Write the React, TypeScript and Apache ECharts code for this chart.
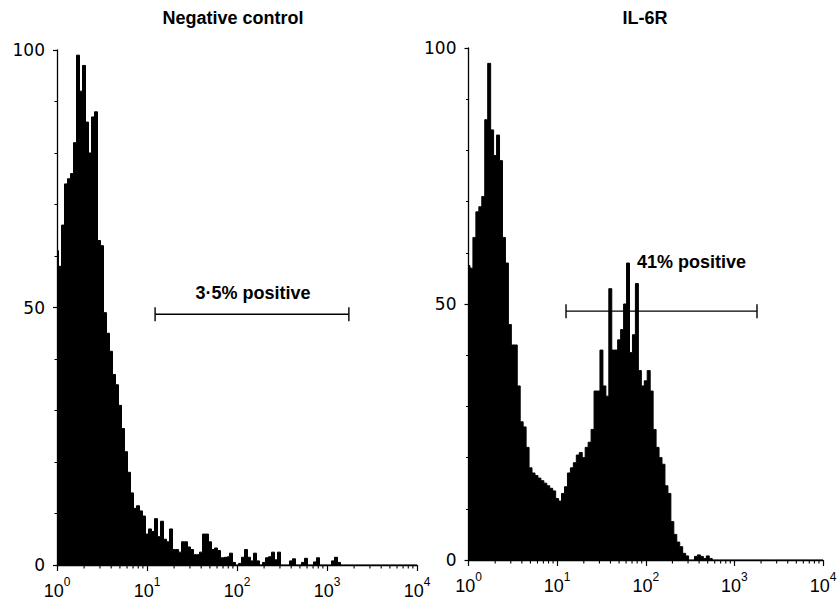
import React, { useEffect, useRef } from 'react';
import * as echarts from 'echarts';

// ---- data ----
const CHANNELS_PER_DECADE = 30; // histogram channels per log decade (channel i sits at 10^(i/30))

const negativeControlCounts = [
  61, 58, 66, 74, 75, 76, 82, 99, 92, 97,
  86, 80, 87, 88, 63, 62, 49, 45, 41.5, 37,
  35, 31, 26.5, 22, 18, 14, 11, 11.5, 10.5, 9.5,
  6, 7, 6.5, 9, 5.5, 8.5, 5, 4.5, 7, 3,
  3, 2.5, 4.5, 4.5, 3.5, 3, 2, 2, 2.5, 6,
  6, 4.5, 3, 3.3, 2.8, 1.4, 1.5, 1.6, 2.3, 0.5,
  0, 0.3, 1.5, 3, 1.5, 0.8, 2.3, 0.8, 0, 0.5,
  1.4, 1.6, 2.5, 1, 2.5, 0, 0, 0, 0.8, 1.2,
  0, 0, 0.5, 1.3, 0, 0, 0.6, 1.4, 0, 0,
  0, 0, 0.8, 1.5, 0.5, 0, 0, 0, 0, 0,
  0, 0, 0, 0, 0, 0, 0, 0, 0, 0,
  0, 0, 0, 0, 0, 0, 0, 0, 0, 0,
  0,
];

const il6rCounts = [
  57.5, 57, 63, 68, 69, 71, 86, 97, 84, 79,
  83, 78, 63, 58, 46, 42, 42, 34, 27, 26,
  22, 18, 17, 16.5, 16, 15.5, 15, 14.5, 14, 13.5,
  12, 11.5, 13, 14.3, 17, 18, 19, 20.5, 21, 20,
  22, 23, 25.5, 33, 33, 41, 34, 32, 53, 41,
  41, 43, 45, 50, 58, 40.5, 44, 54, 37, 34,
  35, 37, 33, 25.5, 22, 20, 18.7, 14.5, 13, 7.5,
  5, 3.5, 2.6, 1.3, 0.8, 0, 0, 0.7, 1, 0.7,
  0.3, 0.8, 0.3, 0, 0, 0, 0, 0, 0, 0,
  0, 0, 0, 0, 0, 0, 0, 0, 0, 0,
  0, 0, 0, 0, 0, 0, 0, 0, 0, 0,
  0, 0, 0, 0, 0, 0, 0, 0, 0, 0,
  0,
];

const panelTitles = ['Negative control', 'IL-6R'];
const xTickValues = [1, 10, 100, 1000, 10000];
const xTickExponents = ['0', '1', '2', '3', '4'];
const xMinorTickValues = [
  2, 3, 4, 5, 6, 7, 8, 9,
  20, 30, 40, 50, 60, 70, 80, 90,
  200, 300, 400, 500, 600, 700, 800, 900,
  2000, 3000, 4000, 5000, 6000, 7000, 8000, 9000,
];
const yTickValues = [0, 50, 100];
const gateRanges = [
  [12.3, 1750],
  [12.6, 1800],
];
const gateLevels = [48.7, 48.6];
const gateLabels = ['3·5% positive', '41% positive'];

// ---- layout / style ----
const FONT = "'Liberation Sans', Arial, Helvetica, sans-serif";
const LABEL_FONT = "'DejaVu Sans', 'Liberation Sans', sans-serif";
const grids = [
  { left: 57, top: 50, width: 360, height: 515 },
  { left: 468.5, top: 48, width: 354.5, height: 512 },
];
const titlePos = [
  { x: 233, y: 18 },
  { x: 645, y: 18 },
];
const gateText = [
  { align: 'center', dx: 1, dy: -21 },
  { align: 'left', dx: -24.5, dy: -49 },
];

function histogramPoints(counts: number[]) {
  return counts.map((c, i) => [Math.pow(10, i / CHANNELS_PER_DECADE), c]);
}

function buildOption() {
  const series: any[] = [];
  const xAxis: any[] = [];
  const yAxis: any[] = [];
  const countsByPanel = [negativeControlCounts, il6rCounts];

  for (let k = 0; k < 2; k++) {
    xAxis.push({
      type: 'log',
      logBase: 10,
      gridIndex: k,
      min: 1,
      max: 10000,
      splitNumber: 4,
      axisLine: { show: true, onZero: false, lineStyle: { color: '#000', width: 1.3 } },
      axisTick: { show: true, length: 6, inside: false, lineStyle: { color: '#000', width: 1.2 } },
      minorTick: { show: false },
      splitLine: { show: false },
      axisLabel: {
        show: true,
        margin: 11,
        color: '#000',
        fontSize: 18,
        fontFamily: FONT,
        formatter: (v: number) => {
          const idx = xTickValues.findIndex((t) => Math.abs(t - v) / t < 1e-6);
          return idx < 0 ? '' : `{b|10}{s|${xTickExponents[idx]}}`;
        },
        rich: {
          b: { fontSize: 18, fontFamily: FONT, color: '#000', lineHeight: 24, verticalAlign: 'bottom' },
          s: { fontSize: 12, fontFamily: FONT, color: '#000', lineHeight: 12, verticalAlign: 'top' },
        },
      },
    });
    yAxis.push({
      type: 'value',
      gridIndex: k,
      min: 0,
      max: 100,
      interval: 50,
      axisLine: { show: true, lineStyle: { color: '#000', width: 1.3 } },
      axisTick: { show: true, length: 4, inside: false, lineStyle: { color: '#000', width: 1.2 } },
      minorTick: { show: true, splitNumber: 5, length: 2.5, lineStyle: { color: '#000', width: 1 } },
      splitLine: { show: false },
      axisLabel: {
        show: true,
        margin: 12,
        color: '#000',
        fontSize: 17,
        fontFamily: LABEL_FONT,
        customValues: yTickValues,
      },
    });

    series.push({
      type: 'line',
      name: panelTitles[k],
      xAxisIndex: k,
      yAxisIndex: k,
      data: histogramPoints(countsByPanel[k]),
      step: 'middle',
      symbol: 'none',
      lineStyle: { color: '#000', width: 1 },
      areaStyle: { color: '#000', opacity: 1 },
      silent: true,
      z: 2,
    });

    series.push({
      type: 'custom',
      xAxisIndex: k,
      yAxisIndex: k,
      clip: false,
      silent: true,
      data: xMinorTickValues.map((v) => [v, 0]),
      encode: { x: 0, y: 1 },
      renderItem: (_p: any, api: any) => {
        const p = api.coord([api.value(0), 0]);
        return {
          type: 'line',
          shape: { x1: p[0], y1: p[1], x2: p[0], y2: p[1] + 3.5 },
          style: { stroke: '#000', lineWidth: 1.1 },
        };
      },
      z: 3,
    });

    const gt = gateText[k];
    series.push({
      type: 'custom',
      xAxisIndex: k,
      yAxisIndex: k,
      clip: false,
      silent: true,
      data: [[gateRanges[k][0], gateRanges[k][1], gateLevels[k]]],
      encode: { x: [0, 1], y: 2 },
      renderItem: (_p: any, api: any) => {
        const a = api.coord([api.value(0), api.value(2)]);
        const b = api.coord([api.value(1), api.value(2)]);
        const cap = 7;
        const cx = (a[0] + b[0]) / 2;
        const st = { stroke: '#000', lineWidth: 1.4 };
        return {
          type: 'group',
          children: [
            { type: 'line', shape: { x1: a[0], y1: a[1], x2: b[0], y2: b[1] }, style: st },
            { type: 'line', shape: { x1: a[0], y1: a[1] - cap, x2: a[0], y2: a[1] + cap }, style: st },
            { type: 'line', shape: { x1: b[0], y1: b[1] - cap, x2: b[0], y2: b[1] + cap }, style: st },
            {
              type: 'text',
              style: {
                text: gateLabels[k],
                x: cx + gt.dx,
                y: a[1] + gt.dy,
                align: gt.align,
                verticalAlign: 'middle',
                fontSize: 18,
                fontWeight: 'bold',
                fontFamily: FONT,
                fill: '#000',
              },
            },
          ],
        };
      },
      z: 4,
    });
  }

  return {
    animation: false,
    backgroundColor: '#fff',
    grid: grids.map((g) => ({ ...g, containLabel: false })),
    xAxis,
    yAxis,
    series,
    graphic: panelTitles.map((t, k) => ({
      type: 'text',
      x: titlePos[k].x,
      y: titlePos[k].y,
      style: {
        text: t,
        align: 'center',
        verticalAlign: 'middle',
        fontSize: 18,
        fontWeight: 'bold',
        fontFamily: FONT,
        fill: '#000',
      },
    })),
  };
}

export default function App() {
  const ref = useRef<HTMLDivElement>(null);
  useEffect(() => {
    if (!ref.current) return;
    const chart = echarts.init(ref.current, null, { renderer: 'svg' });
    chart.setOption(buildOption() as any);
    return () => chart.dispose();
  }, []);
  return (
    <div
      ref={ref}
      style={{ position: 'fixed', left: 0, top: 0, width: 840, height: 606, background: '#fff' }}
    />
  );
}
